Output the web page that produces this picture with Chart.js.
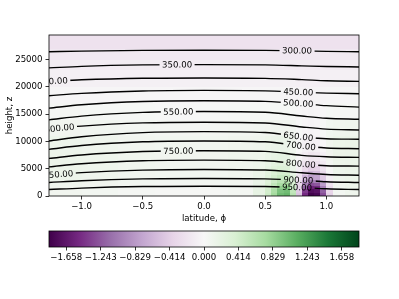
<!DOCTYPE html>
<html>
<head>
<meta charset="utf-8">
<script src="https://cdn.jsdelivr.net/npm/chart.js@4.4.1/dist/chart.umd.min.js"></script>
<style>
  html, body { margin: 0; padding: 0; background: #fff; }
  #wrap { position: relative; width: 399px; height: 299px; overflow: hidden; background: #fff; }
  #main { position: absolute; left: 0; top: 0; }
  #cbar { position: absolute; left: 0; top: 220px; }
</style>
</head>
<body>
<div id="wrap">
  <canvas id="main" width="399" height="230"></canvas>
  <canvas id="cbar" width="399" height="79"></canvas>
</div>
<script>
// =============================================================================
// DATA
// =============================================================================
const latSamples = [-1.266, -1.0, -0.5, 0.0, 0.5, 0.8, 1.0, 1.266];

const pressureLevels = [300, 350, 400, 450, 500, 550, 600, 650, 700, 750, 800, 850, 900, 950];

// heights (m) of each pressure surface at latSamples
const z300 = [26420, 26550, 26680, 26710, 26690, 26600, 26500, 26420];
const z350 = [23470, 23750, 24020, 24080, 24030, 23850, 23720, 23650];
const z400 = [21000, 21290, 21570, 21630, 21560, 21320, 21120, 21000];
const z450 = [18370, 18810, 19250, 19350, 19270, 19000, 18850, 18740];
const z500 = [16100, 16710, 17320, 17450, 17330, 16920, 16550, 16290];
const z550 = [13950, 14640, 15330, 15480, 15350, 14650, 14250, 14070];
const z600 = [12230, 12810, 13390, 13520, 13380, 12650, 12250, 12100];
const z650 = [10080, 10850, 11620, 11790, 11630, 10800, 10500, 10390];
const z700 = [8550, 9240, 9930, 10080, 9930, 9150, 8800, 8660];
const z750 = [6890, 7520, 8150, 8290, 8170, 7450, 7200, 7070];
const z800 = [5340, 5900, 6460, 6580, 6460, 5850, 5550, 5470];
const z850 = [3810, 4280, 4750, 4860, 4760, 4250, 3950, 3810];
const z900 = [2470, 2800, 3130, 3200, 3130, 2880, 2620, 2470];
const z950 = [1180, 1450, 1730, 1790, 1740, 1550, 1320, 1180];

const contourHeights = [z300, z350, z400, z450, z500, z550, z600, z650, z700, z750, z800, z850, z900, z950];

// where each contour gets its inline label
const labelLats = [0.76, -0.22, -1.235, 0.77, 0.77, -0.21, -1.18, 0.77, 0.79, -0.21, 0.79, -1.19, 0.77, 0.76];

// shaded field: cell edges and values (rows from the ground up)
const cellLatEdges = [-1.266, -1.0, -0.7, -0.4, -0.1, 0.2, 0.4, 0.5, 0.55, 0.6, 0.65,
                      0.7, 0.75, 0.8, 0.85, 0.9, 0.95, 1.0, 1.05, 1.15, 1.266];
const cellHeightEdges = [0, 600, 1200, 1800, 2400, 3000, 3800, 4600, 5500, 6500, 8000,
                         11000, 14000, 17000, 20000, 23000, 25000, 27000, 29500];
const fieldRows = [
  [0.08, 0.06, 0.04, 0.03, 0.03, 0.05, 0.2, 0.45, 0.75, 1.0, 1.05, 0.6, -0.5, -1.5, -1.85, -1.8, -1.3, -0.4, 0.05, 0.1],
  [0.08, 0.06, 0.04, 0.03, 0.03, 0.05, 0.2, 0.42, 0.7, 0.95, 1.0, 0.55, -0.45, -1.4, -1.75, -1.7, -1.2, -0.35, 0.06, 0.1],
  [0.09, 0.07, 0.05, 0.04, 0.04, 0.06, 0.18, 0.38, 0.62, 0.85, 0.9, 0.48, -0.4, -1.2, -1.55, -1.5, -1.0, -0.3, 0.07, 0.11],
  [0.1, 0.08, 0.06, 0.05, 0.05, 0.07, 0.17, 0.34, 0.55, 0.72, 0.75, 0.4, -0.35, -1.0, -1.3, -1.25, -0.8, -0.22, 0.08, 0.11],
  [0.11, 0.09, 0.07, 0.06, 0.06, 0.08, 0.16, 0.3, 0.47, 0.6, 0.62, 0.32, -0.3, -0.8, -1.05, -1.0, -0.62, -0.15, 0.09, 0.12],
  [0.12, 0.1, 0.08, 0.07, 0.07, 0.09, 0.15, 0.27, 0.4, 0.5, 0.5, 0.26, -0.22, -0.6, -0.8, -0.75, -0.45, -0.08, 0.1, 0.13],
  [0.12, 0.1, 0.08, 0.07, 0.07, 0.09, 0.14, 0.24, 0.34, 0.4, 0.4, 0.2, -0.15, -0.42, -0.58, -0.55, -0.3, -0.02, 0.11, 0.13],
  [0.13, 0.11, 0.09, 0.08, 0.08, 0.1, 0.13, 0.21, 0.29, 0.33, 0.32, 0.16, -0.1, -0.3, -0.4, -0.38, -0.2, 0.03, 0.12, 0.14],
  [0.13, 0.11, 0.09, 0.08, 0.08, 0.1, 0.12, 0.18, 0.24, 0.27, 0.26, 0.13, -0.06, -0.2, -0.27, -0.25, -0.12, 0.06, 0.13, 0.14],
  [0.13, 0.11, 0.09, 0.08, 0.08, 0.1, 0.11, 0.16, 0.2, 0.22, 0.21, 0.11, -0.03, -0.12, -0.17, -0.15, -0.06, 0.08, 0.14, 0.15],
  [0.12, 0.1, 0.08, 0.07, 0.07, 0.09, 0.1, 0.13, 0.15, 0.16, 0.15, 0.09, 0.0, -0.06, -0.09, -0.07, -0.01, 0.09, 0.13, 0.14],
  [0.08, 0.07, 0.06, 0.05, 0.05, 0.06, 0.07, 0.08, 0.09, 0.09, 0.09, 0.06, 0.01, -0.03, -0.05, -0.03, 0.01, 0.07, 0.09, 0.1],
  [0.03, 0.02, 0.02, 0.01, 0.01, 0.02, 0.02, 0.02, 0.02, 0.02, 0.02, 0.01, -0.01, -0.03, -0.04, -0.03, -0.01, 0.02, 0.03, 0.03],
  [-0.02, -0.02, -0.02, -0.02, -0.02, -0.02, -0.02, -0.02, -0.02, -0.02, -0.02, -0.03, -0.04, -0.05, -0.05, -0.04, -0.03, -0.02, -0.02, -0.02],
  [-0.07, -0.07, -0.07, -0.07, -0.07, -0.07, -0.07, -0.07, -0.07, -0.07, -0.07, -0.07, -0.08, -0.08, -0.08, -0.08, -0.07, -0.07, -0.07, -0.07],
  [-0.12, -0.12, -0.12, -0.12, -0.12, -0.12, -0.12, -0.12, -0.12, -0.12, -0.12, -0.12, -0.12, -0.12, -0.12, -0.12, -0.12, -0.12, -0.12, -0.12],
  [-0.16, -0.16, -0.16, -0.16, -0.16, -0.16, -0.16, -0.16, -0.16, -0.16, -0.16, -0.16, -0.16, -0.16, -0.16, -0.16, -0.16, -0.16, -0.16, -0.16],
  [-0.22, -0.22, -0.22, -0.22, -0.22, -0.22, -0.22, -0.22, -0.22, -0.22, -0.22, -0.22, -0.22, -0.22, -0.22, -0.22, -0.22, -0.22, -0.22, -0.22]
];

// PRGn colormap and colorbar
const prgnColors = ["#40004b", "#762a83", "#9970ab", "#c2a5cf", "#e7d4e8", "#f7f7f7",
                    "#d9f0d3", "#a6dba0", "#5aae61", "#1b7837", "#00441b"];
const colorLimit = 1.865;
const cbarTicks = [-1.658, -1.243, -0.829, -0.414, 0, 0.414, 0.829, 1.243, 1.658];

const xTicks = [-1.0, -0.5, 0.0, 0.5, 1.0];
const yTicks = [0, 5000, 10000, 15000, 20000, 25000];

// =============================================================================
// UTILIDADES
// =============================================================================
const FONT = "DejaVu Sans";
const FONT_SIZE = 8.6;
const LABEL_FONT = `${FONT_SIZE}px "${FONT}"`;

Chart.defaults.font.family = FONT;
Chart.defaults.font.size = FONT_SIZE;
Chart.defaults.color = "#000";

function minus(s) {
  return s.replace("-", "\u2212");
}

function hexToRgb(h) {
  return [1, 3, 5].map(i => parseInt(h.slice(i, i + 2), 16));
}
const prgnRgb = prgnColors.map(hexToRgb);

function colorFor(v) {
  let t = (v + colorLimit) / (2 * colorLimit);
  t = Math.max(0, Math.min(1, t)) * (prgnRgb.length - 1);
  const i = Math.min(Math.floor(t), prgnRgb.length - 2);
  const f = t - i;
  const a = prgnRgb[i], b = prgnRgb[i + 1];
  const c = a.map((av, k) => Math.round(av + f * (b[k] - av)));
  return `rgb(${c[0]},${c[1]},${c[2]})`;
}

function heightAt(heights, lat) {
  for (let i = 0; i < latSamples.length - 1; i++) {
    if (lat <= latSamples[i + 1] || i === latSamples.length - 2) {
      const f = (lat - latSamples[i]) / (latSamples[i + 1] - latSamples[i]);
      return { h: heights[i] + f * (heights[i + 1] - heights[i]), i };
    }
  }
}

function labelBoxes(chart) {
  const { x, y } = chart.scales;
  const ctx = chart.ctx;
  ctx.save();
  ctx.font = LABEL_FONT;
  const boxes = pressureLevels.map((p, k) => {
    const heights = contourHeights[k];
    const lat = labelLats[k];
    const { h, i } = heightAt(heights, lat);
    const ax = x.getPixelForValue(latSamples[i]), ay = y.getPixelForValue(heights[i]);
    const bx = x.getPixelForValue(latSamples[i + 1]), by = y.getPixelForValue(heights[i + 1]);
    const text = p.toFixed(2);
    return {
      px: x.getPixelForValue(lat),
      py: y.getPixelForValue(h),
      angle: Math.atan2(by - ay, bx - ax),
      text,
      w: ctx.measureText(text).width + 5,
      hgt: 8
    };
  });
  ctx.restore();
  return boxes;
}

// =============================================================================
// PLUGINS
// =============================================================================
const fieldPlugin = {
  id: "field",
  beforeDatasetsDraw(chart) {
    const { ctx, chartArea, scales: { x, y } } = chart;

    // shaded cells
    ctx.save();
    fieldRows.forEach((row, r) => {
      const y0 = Math.round(y.getPixelForValue(cellHeightEdges[r + 1]));
      const y1 = Math.round(y.getPixelForValue(cellHeightEdges[r]));
      row.forEach((v, c) => {
        const x0 = Math.round(x.getPixelForValue(cellLatEdges[c]));
        const x1 = Math.round(x.getPixelForValue(cellLatEdges[c + 1]));
        ctx.fillStyle = colorFor(v);
        ctx.fillRect(x0, y0, x1 - x0, y1 - y0);
      });
    });
    ctx.restore();

    // cut gaps in the contour lines where labels go
    chart.$labels = labelBoxes(chart);
    ctx.save();
    ctx.beginPath();
    ctx.rect(chartArea.left - 2, chartArea.top - 2, chartArea.width + 4, chartArea.height + 4);
    chart.$labels.forEach(b => {
      const cos = Math.cos(b.angle), sin = Math.sin(b.angle);
      const pts = [[-b.w / 2, -b.hgt / 2], [b.w / 2, -b.hgt / 2], [b.w / 2, b.hgt / 2], [-b.w / 2, b.hgt / 2]]
        .map(([u, v]) => [b.px + u * cos - v * sin, b.py + u * sin + v * cos]);
      ctx.moveTo(pts[0][0], pts[0][1]);
      pts.slice(1).forEach(p => ctx.lineTo(p[0], p[1]));
      ctx.closePath();
    });
    ctx.clip("evenodd");
  },
  afterDatasetsDraw(chart) {
    const { ctx, chartArea } = chart;
    ctx.restore();

    // contour labels
    ctx.save();
    ctx.beginPath();
    ctx.rect(chartArea.left, chartArea.top, chartArea.width, chartArea.height);
    ctx.clip();
    ctx.font = LABEL_FONT;
    ctx.fillStyle = "#000";
    ctx.textAlign = "center";
    ctx.textBaseline = "middle";
    chart.$labels.forEach(b => {
      ctx.save();
      ctx.translate(b.px, b.py);
      ctx.rotate(b.angle);
      ctx.fillText(b.text, 0, 0.5);
      ctx.restore();
    });
    ctx.restore();

    // frame
    ctx.save();
    ctx.strokeStyle = "#000";
    ctx.lineWidth = 0.8;
    ctx.strokeRect(chartArea.left, chartArea.top, chartArea.width, chartArea.height);
    ctx.restore();
  }
};

const cbarPlugin = {
  id: "cbarFill",
  beforeDatasetsDraw(chart) {
    const { ctx, chartArea, scales: { x } } = chart;
    const g = ctx.createLinearGradient(x.getPixelForValue(-colorLimit), 0, x.getPixelForValue(colorLimit), 0);
    prgnColors.forEach((c, i) => g.addColorStop(i / (prgnColors.length - 1), c));
    ctx.save();
    ctx.fillStyle = g;
    ctx.fillRect(chartArea.left, chartArea.top, chartArea.width, chartArea.height);
    ctx.strokeStyle = "#000";
    ctx.lineWidth = 0.8;
    ctx.strokeRect(chartArea.left, chartArea.top, chartArea.width, chartArea.height);
    ctx.restore();
  }
};

// =============================================================================
// MAIN CHART
// =============================================================================
new Chart(document.getElementById("main"), {
  type: "line",
  data: {
    datasets: pressureLevels.map((p, k) => ({
      label: `${p}`,
      data: latSamples.map((lat, i) => ({ x: lat, y: contourHeights[k][i] })),
      borderColor: "#000",
      borderWidth: 1.4,
      pointRadius: 0,
      cubicInterpolationMode: "monotone",
      fill: false
    }))
  },
  options: {
    responsive: false,
    animation: false,
    events: [],
    layout: { padding: { top: 35, right: 40, left: 0, bottom: 0 } },
    plugins: { legend: { display: false }, tooltip: { enabled: false } },
    scales: {
      x: {
        type: "linear",
        min: -1.266,
        max: 1.266,
        afterBuildTicks: s => { s.ticks = xTicks.map(v => ({ value: v })); },
        afterFit: s => { s.height = 34; },
        grid: { drawOnChartArea: false, color: "#000", tickLength: 3.5, tickWidth: 0.8 },
        border: { display: false },
        ticks: {
          autoSkip: false,
          maxRotation: 0,
          padding: 2,
          callback: v => minus(Number(v).toFixed(1))
        },
        title: { display: true, text: "latitude, \u03d5", padding: { top: 0, bottom: 6 } }
      },
      y: {
        min: 0,
        max: 29500,
        afterBuildTicks: s => { s.ticks = yTicks.map(v => ({ value: v })); },
        afterFit: s => { s.width = 49; },
        grid: { drawOnChartArea: false, color: "#000", tickLength: 3.5, tickWidth: 0.8 },
        border: { display: false },
        ticks: { autoSkip: false, padding: 3, callback: v => String(v) },
        title: { display: true, text: "height, z", padding: { top: 5, bottom: 0 } }
      }
    }
  },
  plugins: [fieldPlugin]
});

// =============================================================================
// COLORBAR
// =============================================================================
new Chart(document.getElementById("cbar"), {
  type: "scatter",
  data: { datasets: [] },
  options: {
    responsive: false,
    animation: false,
    events: [],
    layout: { padding: { top: 11, right: 40, left: 49, bottom: 0 } },
    plugins: { legend: { display: false }, tooltip: { enabled: false } },
    scales: {
      x: {
        type: "linear",
        min: -colorLimit,
        max: colorLimit,
        afterBuildTicks: s => { s.ticks = cbarTicks.map(v => ({ value: v })); },
        afterFit: s => { s.height = 52; },
        grid: { drawOnChartArea: false, color: "#000", tickLength: 3.5, tickWidth: 0.8 },
        border: { display: false },
        ticks: {
          autoSkip: false,
          maxRotation: 0,
          padding: 2,
          callback: v => minus(Number(v).toFixed(3))
        }
      },
      y: { display: false, min: 0, max: 1 }
    }
  },
  plugins: [cbarPlugin]
});
</script>
</body>
</html>
